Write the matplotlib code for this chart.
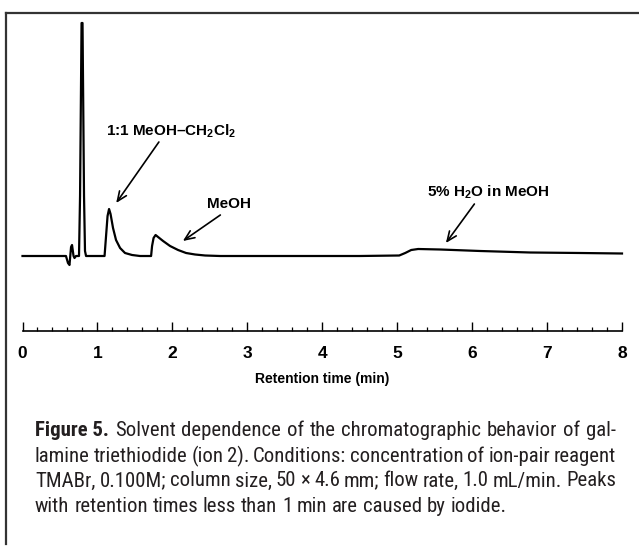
import matplotlib
matplotlib.use("Agg")
import matplotlib.pyplot as plt
from matplotlib import font_manager
from matplotlib.lines import Line2D
import numpy as np

# chromatogram trace (time in min, detector signal in arbitrary units)
time_min = [0.0, 0.30, 0.527, 0.58, 0.607, 0.627, 0.648, 0.661, 0.681, 0.694, 0.714,
            0.754, 0.768, 0.788, 0.801, 0.821, 0.834, 0.848,
            1.095, 1.115, 1.135, 1.155, 1.175, 1.208, 1.248, 1.302, 1.368, 1.462, 1.568,
            1.716, 1.729, 1.749, 1.776, 1.809, 1.876, 1.969, 2.076, 2.183, 2.303, 2.437, 2.637,
            3.705, 4.5, 5.027, 5.107, 5.187, 5.28, 5.574, 6.108, 6.776, 7.444, 8.0]
signal = [0, 0, 0, 0, -7, -9, 9, 11, 0, -2, 0,
          0, 60, 233, 233, 60, 5, 0,
          0, 20, 40, 47, 42, 28, 16, 8, 3, 1, 0,
          0, 10, 18, 21, 19, 15, 10, 6, 3, 1.5, 0.5, 0,
          0, 0, 0.5, 3, 6, 7, 6.5, 5, 3.5, 3, 2.5]

major_ticks = [0, 1, 2, 3, 4, 5, 6, 7, 8]
xlabel = "Retention time (min)"

# peak labels: text, text position, arrow tail, arrow tip
peak_labels = ["1:1 MeOH\u2013CH$_2$Cl$_2$", "MeOH", "5% H$_2$O in MeOH"]
label_xy = [(1.98, 125), (2.76, 52), (6.21, 64)]
arrow_tail = [(1.82, 114), (2.64, 41), (6.03, 52)]
arrow_tip = [(1.25, 53), (2.14, 15), (5.65, 13)]

caption = [
    [("Figure 5.", "bold"), "Solvent", "dependence", "of", "the", "chromatographic",
     "behavior", "of", "gal-"],
    "lamine triethiodide (ion 2). Conditions: concentration of ion-pair reagent".split(),
    "TMABr, 0.100M; column size, 50 \u00d7 4.6 mm; flow rate, 1.0 mL/min. Peaks".split(),
    "with retention times less than 1 min are caused by iodide.".split(),
]

plt.rcParams["mathtext.fontset"] = "custom"
plt.rcParams["mathtext.rm"] = "Liberation Sans:bold"
plt.rcParams["mathtext.it"] = "Liberation Sans:bold"
plt.rcParams["mathtext.bf"] = "Liberation Sans:bold"

# pick a narrow face for the caption if one is installed
fonts = font_manager.fontManager.ttflist
names = {f.name for f in fonts}
cap_family, cap_stretch = "DejaVu Sans", "normal"
for cand in ["Liberation Sans Narrow", "Roboto Condensed", "Open Sans Condensed",
             "Noto Sans Condensed", "DejaVu Sans Condensed"]:
    if cand in names:
        cap_family = cand
        break
else:
    if any(f.name == "DejaVu Sans" and f.stretch == "condensed" for f in fonts):
        cap_stretch = "condensed"
    elif any(f.name == "Roboto" and f.stretch == "condensed" for f in fonts):
        cap_family, cap_stretch = "Roboto", "condensed"

W, H = 639, 546
fig = plt.figure(figsize=(W / 100, H / 100), dpi=100)
fig.patch.set_facecolor("white")

# axes: x from 0 to 8 min at px 22.5..622, bottom spine at y=331, top at y=15
x0, x1 = 22.5, 622.0
y_bot, y_top = 331, 15
ax = fig.add_axes([x0 / W, 1 - y_bot / H, (x1 - x0) / W, (y_bot - y_top) / H])
ax.set_xlim(0, 8)
ax.set_ylim(256 - y_bot, 256 - y_top)

ax.plot(time_min, signal, color="black", lw=1.6, clip_on=False, solid_joinstyle="round")

for txt, xy, tail, tip in zip(peak_labels, label_xy, arrow_tail, arrow_tip):
    ax.text(xy[0], xy[1], txt, ha="center", va="center", fontsize=11,
            fontweight="bold", family="Liberation Sans", color="black")
    ax.annotate("", xy=tip, xytext=tail,
                arrowprops=dict(arrowstyle="->,head_length=0.7,head_width=0.3",
                                color="black", lw=1.2, shrinkA=0, shrinkB=0))

for s in ["left", "right", "top"]:
    ax.spines[s].set_visible(False)
ax.spines["bottom"].set_linewidth(1.2)
ax.set_yticks([])
ax.set_xticks(major_ticks)
ax.set_xticks(np.arange(0, 8.01, 0.2), minor=True)
ax.tick_params(axis="x", which="major", direction="in", length=6.5, width=1.0, pad=11,
               labelsize=12.5)
ax.tick_params(axis="x", which="minor", direction="in", length=3.2, width=0.9)
for lab in ax.get_xticklabels():
    lab.set_fontweight("bold")
    lab.set_family("Liberation Sans")
ax.set_xlabel(xlabel, fontsize=10, fontweight="bold", family="Liberation Sans", labelpad=8)
ax.patch.set_alpha(0)

# frame lines of the figure box
fig.add_artist(Line2D([6 / W, 1], [1 - 13 / H] * 2, color="#333333", lw=1.6))
fig.add_artist(Line2D([6 / W] * 2, [1 - 13 / H, 1 - 544 / H], color="#333333", lw=1.6))

# justified caption
renderer = fig.canvas.get_renderer()
cx0, cx1 = 35, 616
line_y = [431, 456, 481, 506]
size = 15


def word_width(w, weight, fs):
    t = fig.text(0, 0, w, fontsize=fs, family=cap_family, fontweight=weight,
                 fontstretch=cap_stretch)
    wd = t.get_window_extent(renderer).width
    t.remove()
    return wd


words_all = [[w if isinstance(w, tuple) else (w, "normal") for w in ln] for ln in caption]
space = word_width("a a", "normal", size) - word_width("aa", "normal", size)
natural = [sum(word_width(w, wt, size) for w, wt in ln) + space * 0.8 * (len(ln) - 1)
           for ln in words_all]
size = min(size, size * (cx1 - cx0) / max(natural))
space = word_width("a a", "normal", size) - word_width("aa", "normal", size)

for i, (ln, y) in enumerate(zip(words_all, line_y)):
    widths = [word_width(w, wt, size) for w, wt in ln]
    if i < len(words_all) - 1:
        gap = (cx1 - cx0 - sum(widths)) / (len(ln) - 1)
    else:
        gap = space
    x = cx0
    for (w, wt), wd in zip(ln, widths):
        fig.text(x / W, 1 - y / H, w, fontsize=size, family=cap_family, fontweight=wt,
                 fontstretch=cap_stretch, va="center", ha="left", color="#231f20")
        x += wd + gap

fig.savefig("out.png", dpi=100)
